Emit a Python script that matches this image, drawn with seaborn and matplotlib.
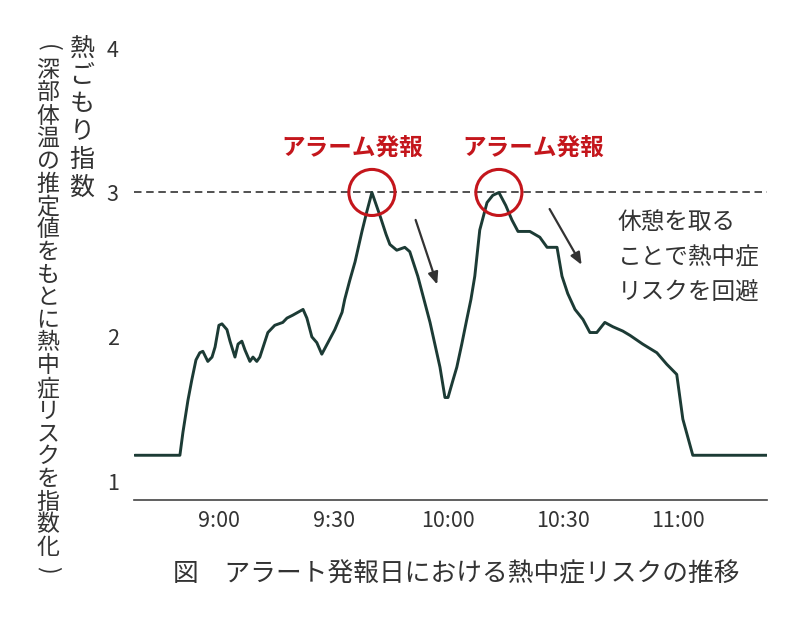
import pandas as pd
import seaborn as sns
import matplotlib.pyplot as plt

# -------------------------------
# Data (minutes after 9:00, heat index)
# -------------------------------
minutes = [-22.0, -10.2, -9.4, -8.1, -7.1, -6.0, -5.0, -4.2, -2.9, -1.8, -1.0,
           0.0, 0.8, 2.1, 2.9, 4.2, 5.0, 6.0, 6.8, 8.1, 8.9, 9.9, 10.7,
           12.8, 14.6, 16.7, 17.8, 19.3, 22.0, 23.0, 24.3, 25.6, 26.9, 28.5,
           30.3, 32.2, 32.9, 34.2, 35.6, 37.4, 38.7, 40.0, 42.1, 43.7, 44.7,
           46.5, 48.6, 49.9, 52.0, 55.2, 57.8, 59.1, 59.9, 61.2, 62.2, 63.5,
           64.8, 65.9, 66.9, 68.2, 70.1, 71.6, 73.2, 75.0, 76.6, 78.2, 81.3,
           83.9, 85.8, 88.4, 89.7, 91.2, 93.1, 95.2, 97.0, 98.8, 100.9, 103.0,
           105.6, 107.5, 110.8, 114.5, 117.1, 119.7, 121.3, 123.9, 143.3]
heat_index = [1.18, 1.18, 1.34, 1.56, 1.70, 1.84, 1.89, 1.90, 1.83, 1.86, 1.93,
              2.08, 2.09, 2.05, 1.97, 1.86, 1.95, 1.97, 1.91, 1.83, 1.86, 1.83, 1.86,
              2.03, 2.08, 2.10, 2.13, 2.15, 2.19, 2.13, 2.00, 1.96, 1.88, 1.96,
              2.05, 2.17, 2.26, 2.39, 2.52, 2.73, 2.87, 3.00, 2.84, 2.71, 2.64,
              2.60, 2.62, 2.59, 2.42, 2.10, 1.79, 1.58, 1.58, 1.70, 1.79, 1.95,
              2.12, 2.26, 2.42, 2.74, 2.93, 2.98, 3.00, 2.91, 2.81, 2.73, 2.73,
              2.69, 2.62, 2.62, 2.42, 2.30, 2.19, 2.12, 2.03, 2.03, 2.10, 2.07,
              2.04, 2.01, 1.95, 1.89, 1.81, 1.74, 1.43, 1.18, 1.18]

tick_minutes = [0, 30, 60, 90, 120]
tick_labels = ["9:00", "9:30", "10:00", "10:30", "11:00"]
y_ticks = [1, 2, 3, 4]

alarm_level = 3
alarm_minutes = [40.0, 73.2]
alarm_text = "アラーム発報"
alarm_text_minutes = [34.9, 82.1]

note_lines = ["休憩を取る", "ことで熱中症", "リスクを回避"]

ylabel_main = "熱ごもり指数"
ylabel_sub = "(深部体温の推定値をもとに熱中症リスクを指数化)"
caption = "図　アラート発報日における熱中症リスクの推移"

df = pd.DataFrame({"minutes": minutes, "heat_index": heat_index})

# -------------------------------
# Style
# -------------------------------
sns.set_theme(style="white")
plt.rcParams['font.family'] = ['Noto Sans CJK JP', 'DejaVu Sans']

LINE = "#1c3b35"
RED = "#c4161c"
INK = "#333333"

fig = plt.figure(figsize=(8, 6.2), dpi=100)
ax = fig.add_axes([0.1675, 0.1935, 0.79125, 0.729])

sns.lineplot(data=df, x="minutes", y="heat_index", color=LINE, linewidth=2.1,
             sort=False, ax=ax, zorder=3)

ax.axhline(alarm_level, color=INK, lw=1.2, ls=(0, (4.5, 2.8)), zorder=2)

ax.scatter(alarm_minutes, [alarm_level] * len(alarm_minutes), s=1100,
           facecolors="none", edgecolors=RED, linewidths=2.2, zorder=5)

for tm in alarm_text_minutes:
    ax.text(tm, 3.308, alarm_text, color=RED, fontsize=17, fontweight="bold",
            ha="center", va="center")

# downward arrows after each alarm
arrows = [((51.2, 2.828), (57.3, 2.344)), ((86.1, 2.902), (95.2, 2.482))]
for start, end in arrows:
    ax.annotate("", xy=end, xytext=start,
                arrowprops=dict(arrowstyle="-|>,head_length=0.6,head_width=0.25",
                                color=INK, lw=1.6))

for i, line in enumerate(note_lines):
    ax.text(104.3, 2.789 - i * 0.245, line, color=INK, fontsize=17,
            ha="left", va="center")

ax.set_xlim(-22.2, 143.3)
ax.set_ylim(0.87, 4.0)
ax.set_xticks(tick_minutes)
ax.set_xticklabels(tick_labels)
ax.set_yticks(y_ticks)
ax.set_yticklabels([str(v) for v in y_ticks])
ax.tick_params(axis="both", length=0, labelsize=15.5, colors=INK)
ax.tick_params(axis="x", pad=7)
ax.tick_params(axis="y", pad=11)
ax.set_xlabel("")
ax.set_ylabel("")

for side in ["top", "right", "left"]:
    ax.spines[side].set_visible(False)
ax.spines["bottom"].set_color("#444444")
ax.spines["bottom"].set_linewidth(1.2)

# vertical y-axis labels, one character at a time (brackets turned sideways)
for i, ch in enumerate(ylabel_main):
    fig.text(82 / 800, 1 - (48.6 + i * 27.9) / 620, ch, color=INK,
             fontsize=18, ha="center", va="center")
for i, ch in enumerate(ylabel_sub):
    rot = -90 if ch in "()" else 0
    fig.text(48 / 800, 1 - (48 + i * 22.7) / 620, ch, color=INK,
             fontsize=16.5, ha="center", va="center", rotation=rot)

fig.text(173 / 800, 1 - 574 / 620, caption, color=INK, fontsize=18.5,
         ha="left", va="center")

fig.savefig("out.png", dpi=100)
